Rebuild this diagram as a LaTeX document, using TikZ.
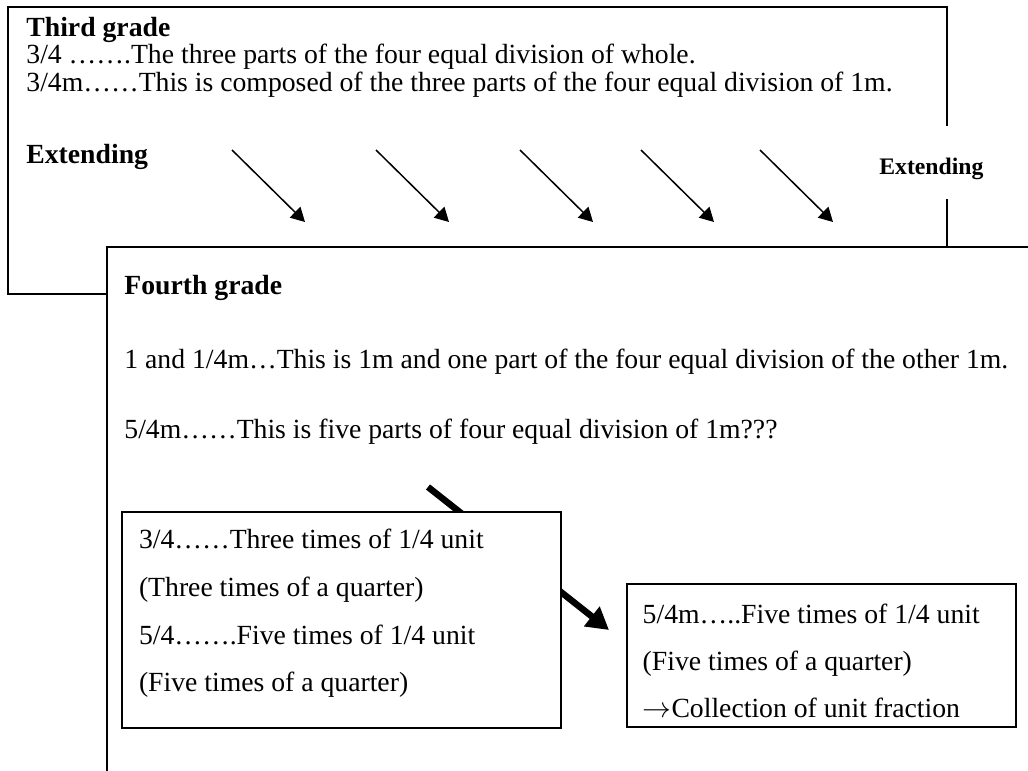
\documentclass[tikz,border=0pt]{standalone}
\usepackage{fontspec}
\setmainfont{Liberation Serif}
\usetikzlibrary{positioning,arrows.meta}
\tikzset{
  boxline/.style={line width=1pt, draw=black},
  txt/.style={anchor=base west, inner sep=0pt, font=\fontsize{13.85}{16}\selectfont},
  head/.style={txt, font=\fontsize{13.85}{16}\selectfont\bfseries},
  inbox/.style={draw, line width=1pt, fill=white, anchor=north west, align=flush left,
                inner ysep=0pt, font=\fontsize{13.85}{23.85}\selectfont},
  flow/.style={-{Triangle[length=7pt, width=7.5pt]}, line width=0.75pt},
  bigflow/.style={-{Triangle[length=11pt, width=12pt]}, line width=3.25pt},
}

\begin{document}
\begin{tikzpicture}[x=0.5pt, y=-0.5pt]
\useasboundingbox (0,0) rectangle (1028,771);

% ---- third grade: the frame behind, partly hidden by the fourth grade ----
\draw[boxline] (947,126) -- (947,7) -- (8,7) -- (8,294) -- (107,294);
\draw[boxline] (947,199) -- (947,247);
\node[head] (third) at (26,36) {Third grade};
\node[txt] (tline1) at (26,63.5) {3/4 …….The three parts of the four equal division of whole.};
\node[txt] (tline2) at (26,91) {3/4m……This is composed of the three parts of the four equal division of 1m.};
\node[head] (extleft) at (26,163) {Extending};
\node[head, font=\fontsize{11.85}{14}\selectfont\bfseries] (extright) at (879,174) {Extending};

% ---- the five extending arrows ----
\foreach \x [count=\i] in {232,376,520,641,760} {
  \coordinate (from\i) at (\x,150);
  \coordinate (to\i) at (\x+73,222);
  \draw[flow] (from\i) -- (to\i);
}

% ---- fourth grade: open to the right and below ----
\draw[boxline] (1032,247) -- (107,247) -- (107,775);
\node[head] (fourth) at (124,294) {Fourth grade};
\node[txt] (fline1) at (124,368) {1 and 1/4m…This is 1m and one part of the four equal division of the other 1m.};
\node[txt] (fline2) at (124,438) {5/4m……This is five parts of four equal division of 1m???};

% ---- thick arrow, passing under the unit box ----
\coordinate (jump) at (428,487);
\coordinate (land) at (609,630);
\draw[bigflow] (jump) -- (land);

\node[inbox, text width=202.5pt, inner xsep=8.5pt, text height=18.35pt, text depth=89.7pt]
  (unitbox) at (121,511) {3/4……Three times of 1/4 unit\\
  (Three times of a quarter)\\
  5/4…….Five times of 1/4 unit\\
  (Five times of a quarter)};
\node[inbox, font=\fontsize{13.85}{23.5}\selectfont, text width=178.8pt, inner xsep=7.85pt,
      text height=19.5pt, text depth=52pt]
  (collbox) at (626,583) {5/4m…..Five times of 1/4 unit\\
  (Five times of a quarter)\\
  $\rightarrow$Collection of unit fraction};
\end{tikzpicture}
\end{document}
